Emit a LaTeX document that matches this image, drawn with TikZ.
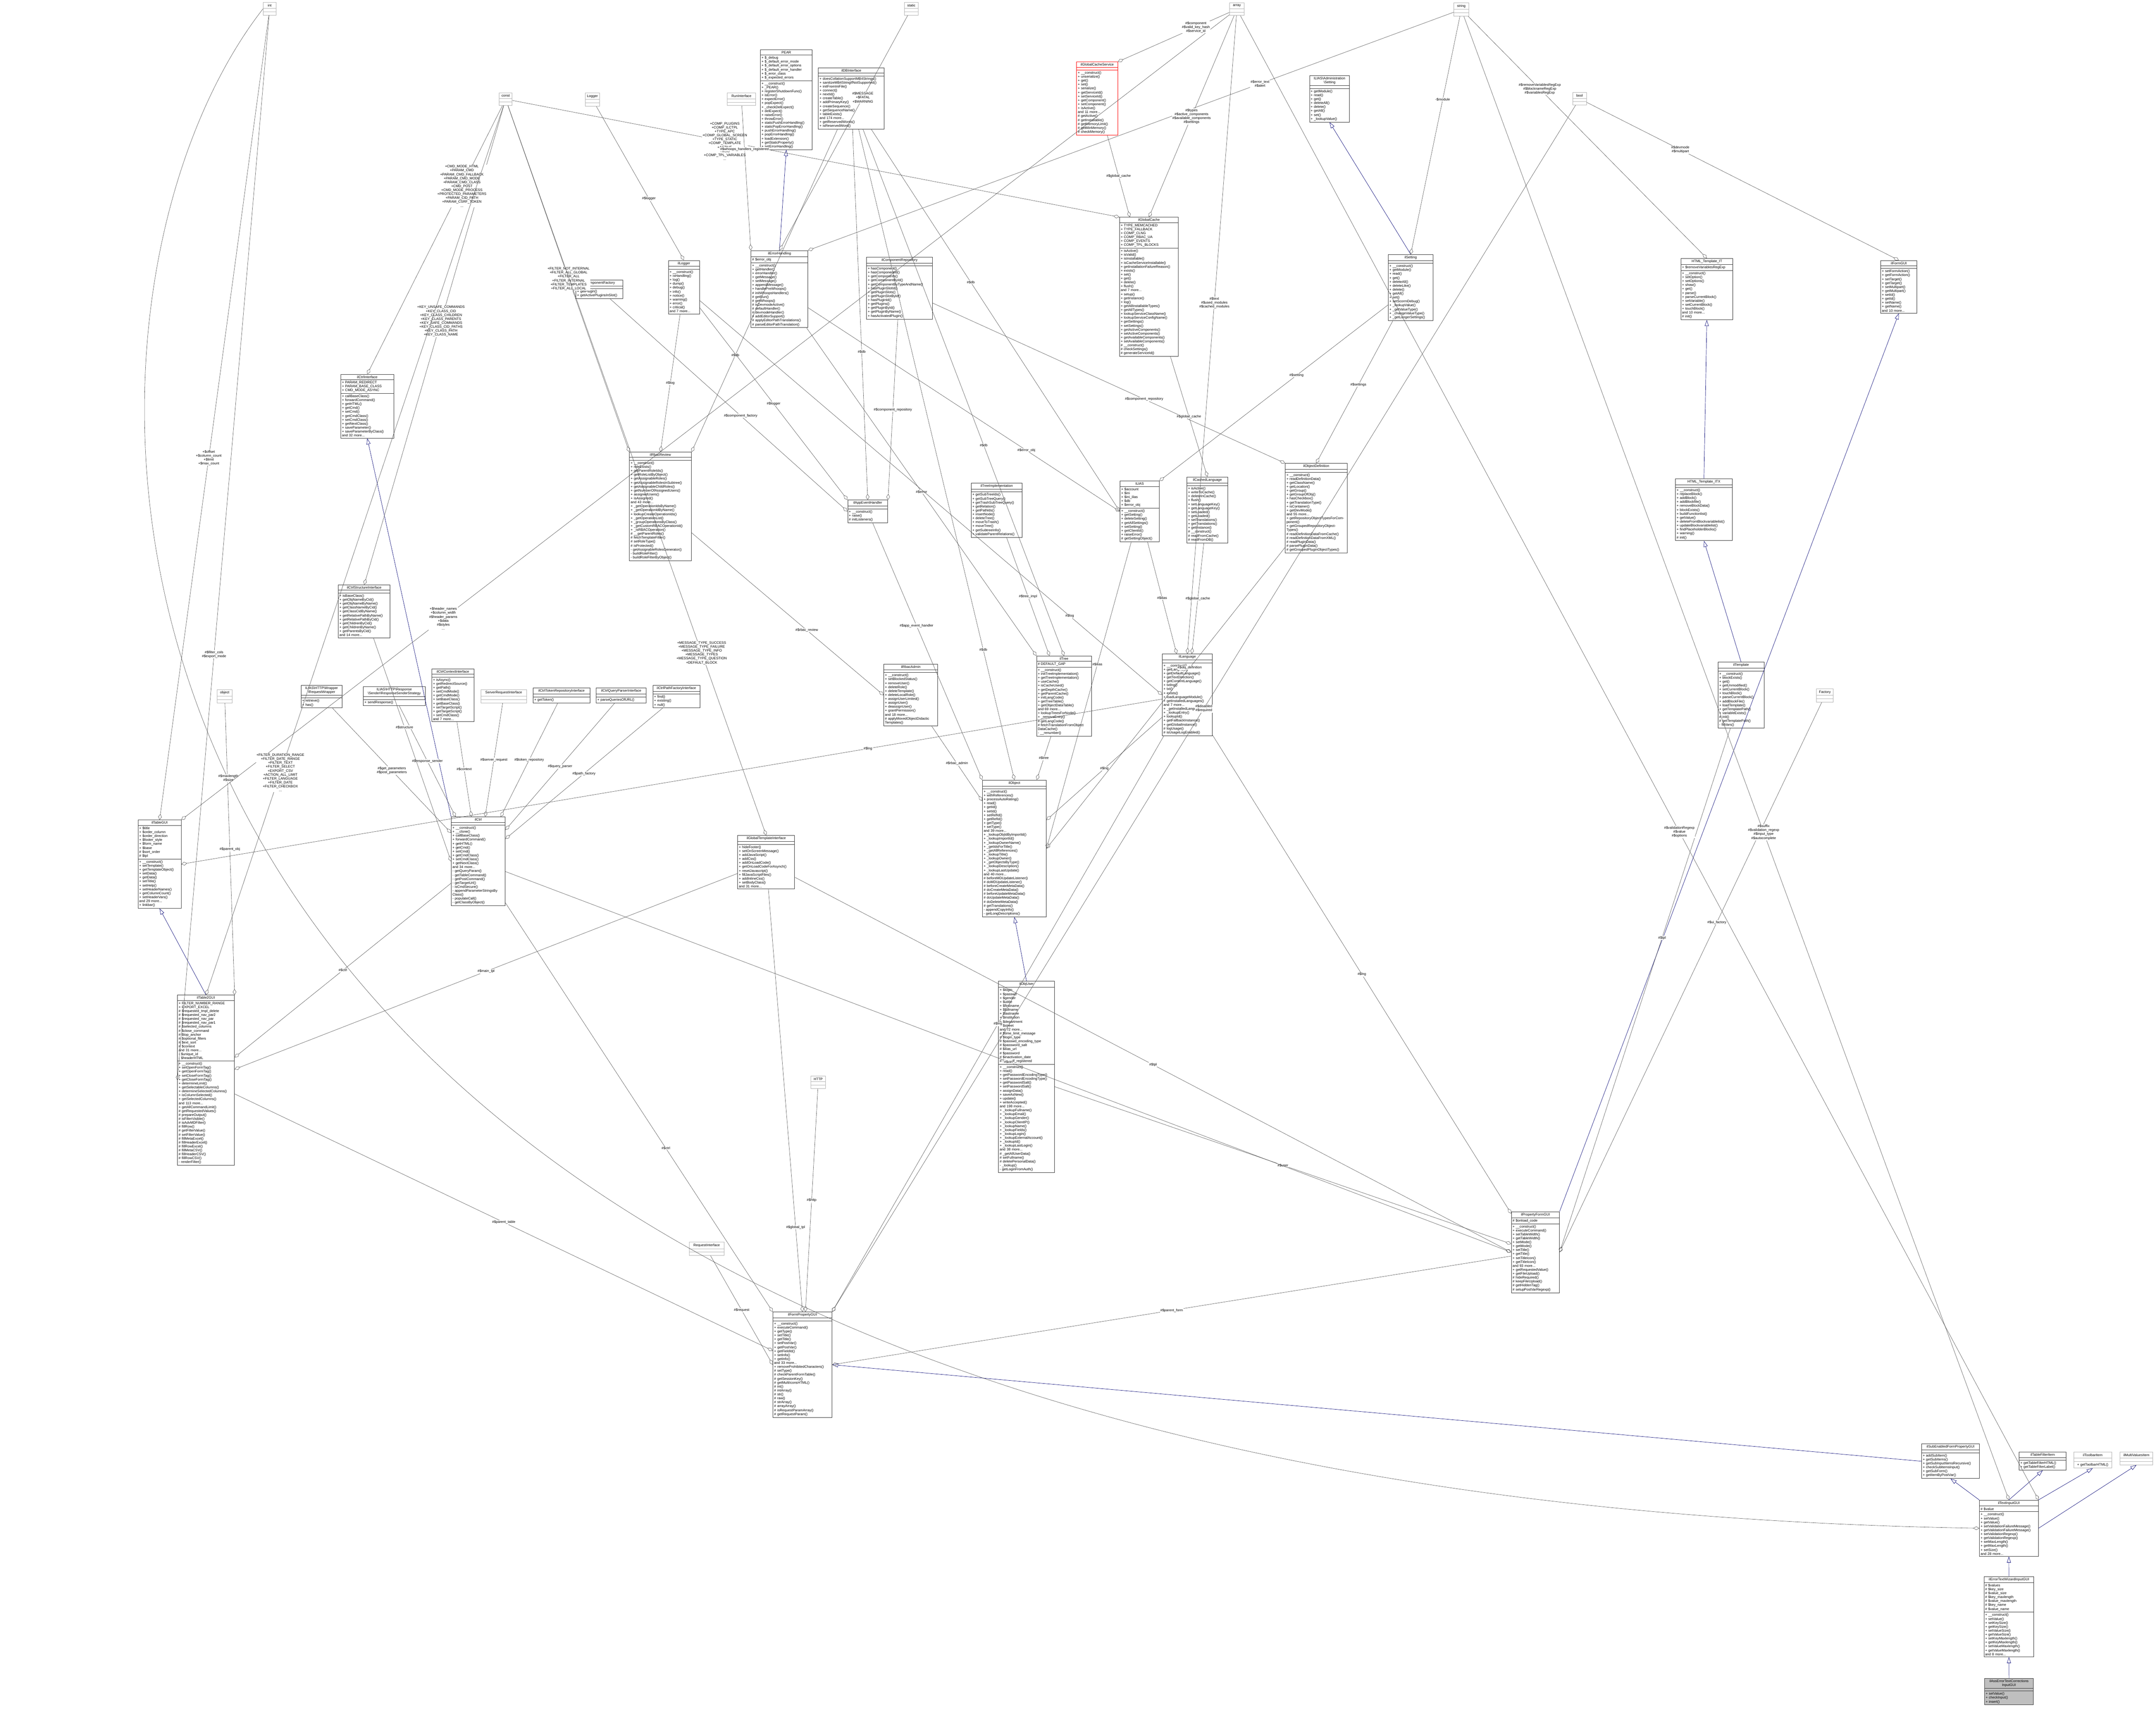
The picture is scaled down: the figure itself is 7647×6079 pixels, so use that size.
\documentclass[tikz,border=0pt]{standalone}
\usepackage{fontspec}
\setmainfont{Liberation Sans}
\usetikzlibrary{arrows.meta, shapes.multipart}

\newcommand{\umltext}{\fontsize{3.5}{3.97}\selectfont}
% one class box: name, x, y, width, title, attributes, methods
\newcommand{\umlclass}[7]{%
  \node[umlbox, text width=#4pt] (#1) at (#2,#3)
    {{\centering #5\par}\nodepart{two}#6\nodepart{three}#7};}

\begin{document}
\begin{tikzpicture}[
  x=0.01cm, y=-0.01cm,
  umlbox/.style = {rectangle split, rectangle split parts=3, draw=black!80,
    anchor=north west, font=\umltext, align=left, inner xsep=1.2pt,
    inner ysep=1.2pt, fill=white},
  typebox/.style = {rectangle split, rectangle split parts=3, draw=black!30,
    anchor=north west, font=\umltext, align=center, inner sep=1.5pt,
    text width=#1, fill=white},
  uses/.style = {draw=black!75, line width=0.25pt,
    -{Diamond[open, length=6pt, width=3.5pt]}},
  isa/.style = {draw=blue!45!black, line width=0.3pt,
    -{Triangle[open, length=6pt, width=4pt]}},
  lbl/.style = {font=\umltext, align=center, fill=white, inner sep=0.5pt}
]
\useasboundingbox (0,0) rectangle (7647,6079);

% primitive types
\node[typebox=10pt] (int) at (933,8) {int\nodepart{two}~\nodepart{three}~};
\node[typebox=11pt] (static) at (3207,8) {static\nodepart{two}~\nodepart{three}~};
\node[typebox=12pt] (array) at (4360,9) {array\nodepart{two}~\nodepart{three}~};
\node[typebox=12pt] (string) at (5156,9) {string\nodepart{two}~\nodepart{three}~};
\node[typebox=11pt] (bool) at (5577,327) {bool\nodepart{two}~\nodepart{three}~};
\node[typebox=10pt] (const) at (1770,329) {const\nodepart{two}~\nodepart{three}~};
\node[typebox=11pt] (Logger) at (2076,329) {Logger\nodepart{two}~\nodepart{three}~};
\node[typebox=26pt] (RunInterface) at (2578,329) {RunInterface\nodepart{two}~\nodepart{three}~};
\node[typebox=12pt] (object) at (770,2445) {object\nodepart{two}~\nodepart{three}~};
\node[typebox=43pt] (ServerRequest) at (1705,2445) {ServerRequestInterface\nodepart{two}~\nodepart{three}~};
\node[typebox=12pt] (HTTP) at (2875,3816) {HTTP\nodepart{two}~\nodepart{three}~};
\node[typebox=32pt] (RequestIface) at (2444,4405) {RequestInterface\nodepart{two}~\nodepart{three}~};
\node[typebox=14pt] (Factory) at (6442,2443) {Factory\nodepart{two}~\nodepart{three}~};
\node[typebox=35pt] (ilToolbarItem) at (7355,5150) {ilToolbarItem\nodepart{two}~\nodepart{three}+ getToolbarHTML()};
\node[typebox=30pt] (ilMultiValuesItem) at (7519,5150) {ilMultiValuesItem\nodepart{two}~\nodepart{three}~};

% classes
\umlclass{PEAR}{2696}{176}{50}{PEAR}{+ \$\_debug\\+ \$\_default\_error\_mode\\+ \$\_default\_error\_options\\+ \$\_default\_error\_handler\\+ \$\_error\_class\\+ \$\_expected\_errors}{+ \_\_construct()\\+ \_PEAR()\\+ registerShutdownFunc()\\+ isError()\\+ expectError()\\+ popExpect()\\+ \_checkDelExpect()\\+ delExpect()\\+ raiseError()\\+ throwError()\\+ staticPushErrorHandling()\\+ staticPopErrorHandling()\\+ pushErrorHandling()\\+ popErrorHandling()\\+ loadExtension()\\+ getStaticProperty()\\+ setErrorHandling()}
\umlclass{ilDBInterface}{2902}{240}{64}{ilDBInterface}{~}{+ doesCollationSupportMB4Strings()\\+ sanitizeMB4StringIfNotSupported()\\+ initFromIniFile()\\+ connect()\\+ nextId()\\+ createTable()\\+ addPrimaryKey()\\+ createSequence()\\+ getSequenceName()\\+ tableExists()\\and 174 more...\\+ getReservedWords()\\+ isReservedWord()}
\node[umlbox, text width=39pt, draw=red] (ilGlobalCacheService) at (3818,219)
  {{\centering ilGlobalCacheService\par}\nodepart{two}~\nodepart{three}+ \_\_construct()\\+ unserialize()\\+ get()\\+ set()\\+ serialize()\\+ getServiceId()\\+ setServiceId()\\+ getComponent()\\+ setComponent()\\+ isActive()\\and 11 more...\\\# getActive()\\\# getInstallable()\\\# getMemoryLimit()\\\# getMinMemory()\\\# checkMemory()};
\umlclass{ilAdminSetting}{4644}{268}{38}{ILIAS\textbackslash Administration \textbackslash Setting}{~}{+ getModule()\\+ read()\\+ get()\\+ deleteAll()\\+ delete()\\+ getAll()\\+ set()\\+ \_lookupValue()}
\umlclass{ilGlobalCache}{3970}{770}{57}{ilGlobalCache}{+ TYPE\_MEMCACHED\\+ TYPE\_FALLBACK\\+ COMP\_CLNG\\+ COMP\_RBAC\_UA\\+ COMP\_EVENTS\\+ COMP\_TPL\_BLOCKS}{+ isActive()\\+ isValid()\\+ isInstallable()\\+ isCacheServiceInstallable()\\+ getInstallationFailureReason()\\+ exists()\\+ set()\\+ get()\\+ delete()\\+ flush()\\and 7 more...\\+ setup()\\+ getInstance()\\+ log()\\+ getAllInstallableTypes()\\+ getAllTypes()\\+ lookupServiceClassName()\\+ lookupServiceConfigName()\\+ getSettings()\\+ setSettings()\\+ getActiveComponents()\\+ setActiveComponents()\\+ getAvailableComponents()\\+ setAvailableComponents()\\\# \_\_construct()\\\# checkSettings()\\\# generateServiceId()}
\umlclass{ilSetting}{4923}{902}{43}{ilSetting}{~}{+ \_\_construct()\\+ getModule()\\+ read()\\+ get()\\+ deleteAll()\\+ deleteLike()\\+ delete()\\+ getAll()\\+ set()\\+ setScormDebug()\\+ \_lookupValue()\\+ \_getValueType()\\+ \_changeValueType()\\+ \_getLongerSettings()}
\umlclass{HTMLTemplateIT}{5961}{916}{50}{HTML\_Template\_IT}{+ \$removeVariablesRegExp}{+ \_\_construct()\\+ setOption()\\+ setOptions()\\+ show()\\+ get()\\+ parse()\\+ parseCurrentBlock()\\+ setVariable()\\+ setCurrentBlock()\\+ touchBlock()\\and 10 more...\\\# init()}
\umlclass{ilFormGUI}{6670}{923}{34}{ilFormGUI}{~}{+ setFormAction()\\+ getFormAction()\\+ setTarget()\\+ getTarget()\\+ setMultipart()\\+ getMultipart()\\+ setId()\\+ getId()\\+ setName()\\+ getName()\\and 10 more...}
\umlclass{ilErrorHandling}{2663}{888}{55}{ilErrorHandling}{\# \$error\_obj}{+ \_\_construct()\\+ getHandler()\\+ errorHandler()\\+ getMessage()\\+ setMessage()\\+ appendMessage()\\+ handlePreWhoops()\\\# initWhoopsHandlers()\\\# getRun()\\\# getWhoops()\\\# isDevmodeActive()\\\# defaultHandler()\\\# devmodeHandler()\\\# addEditorSupport()\\\# applyEditorPathTranslations()\\\# parseEditorPathTranslation()}
\umlclass{ilLogger}{2370}{923}{29}{ilLogger}{~}{+ \_\_construct()\\+ isHandling()\\+ log()\\+ dump()\\+ debug()\\+ info()\\+ notice()\\+ warning()\\+ error()\\+ critical()\\and 7 more...}
\umlclass{ilComponentRepository}{3073}{911}{64}{ilComponentRepository}{~}{+ hasComponent()\\+ hasComponentId()\\+ getComponents()\\+ getComponentById()\\+ getComponentByTypeAndName()\\+ hasPluginSlotId()\\+ getPluginSlots()\\+ getPluginSlotById()\\+ hasPluginId()\\+ getPlugins()\\+ getPluginById()\\+ getPluginByName()\\+ hasActivatedPlugin()}
\umlclass{ilComponentFactory}{2042}{992}{45}{ilComponentFactory}{~}{+ getPlugin()\\+ getActivePluginsInSlot()}
\umlclass{ilCtrlInterface}{1208}{1327}{51}{ilCtrlInterface}{+ PARAM\_REDIRECT\\+ PARAM\_BASE\_CLASS\\+ CMD\_MODE\_ASYNC}{+ callBaseClass()\\+ forwardCommand()\\+ getHTML()\\+ getCmd()\\+ setCmd()\\+ getCmdClass()\\+ setCmdClass()\\+ getNextClass()\\+ saveParameter()\\+ saveParameterByClass()\\and 32 more...}
\umlclass{ilRbacReview}{2232}{1603}{60}{ilRbacReview}{~}{+ \_\_construct()\\+ roleExists()\\+ getParentRoleIds()\\+ getRoleListByObject()\\+ getAssignableRoles()\\+ getAssignableRolesInSubtree()\\+ getAssignableChildRoles()\\+ getNumberOfAssignedUsers()\\+ assignedUsers()\\+ isAssigned()\\and 43 more...\\+ \_getOperationIdsByName()\\+ \_getOperationIdByName()\\+ lookupCreateOperationIds()\\+ \_getOperationList()\\+ \_groupOperationsByClass()\\+ \_getCustomRBACOperationId()\\+ \_isRBACOperation()\\\# \_\_getParentRoles()\\\# fetchTemplateFilter()\\\# setRoleType()\\\# isProtected()\\- getAssignableRolesGenerator()\\- buildRoleFilter()\\- buildRoleFilterByObject()}
\umlclass{ilAppEventHandler}{3006}{1773}{38}{ilAppEventHandler}{~}{+ \_\_construct()\\+ raise()\\\# initListeners()}
\umlclass{ilTreeImplementation}{3444}{1713}{49}{ilTreeImplementation}{~}{+ getSubTreeIds()\\+ getSubTreeQuery()\\+ getTrashSubTreeQuery()\\+ getRelation()\\+ getPathIds()\\+ insertNode()\\+ deleteTree()\\+ moveToTrash()\\+ moveTree()\\+ getSubtreeInfo()\\+ validateParentRelations()}
\umlclass{ILIAS}{3972}{1706}{37}{ILIAS}{+ \$account\\+ \$ini\\+ \$ini\_ilias\\+ \$db\\+ \$error\_obj}{+ \_\_construct()\\+ getSetting()\\+ deleteSetting()\\+ getAllSettings()\\+ setSetting()\\+ getClientId()\\+ raiseError()\\\# getSettingObject()}
\umlclass{ilCachedLanguage}{4209}{1691}{39}{ilCachedLanguage}{~}{+ isActive()\\+ writeToCache()\\+ deleteInCache()\\+ flush()\\+ setLanguageKey()\\+ getLanguageKey()\\+ setLoaded()\\+ getLoaded()\\+ setTranslations()\\+ getTranslations()\\+ getInstance()\\\# \_\_construct()\\\# readFromCache()\\\# readFromDB()}
\umlclass{ilObjectDefinition}{4558}{1643}{60}{ilObjectDefinition}{~}{+ \_\_construct()\\+ readDefinitionData()\\+ getClassName()\\+ getLocation()\\+ getGroup()\\+ getGroupOfObj()\\+ hasCheckbox()\\+ getTranslationType()\\+ isContainer()\\+ getDevMode()\\and 55 more...\\+ getRepositoryObjectTypesForComponent()\\+ getGroupedRepositoryObjectTypes()\\\# readDefinitionDataFromCache()\\\# readDefinitionDataFromXML()\\\# readPluginData()\\\# parsePluginData()\\\# getGroupedPluginObjectTypes()}
\umlclass{HTMLTemplateITX}{5942}{1697}{55}{HTML\_Template\_ITX}{~}{+ \_\_construct()\\+ replaceBlock()\\+ addBlock()\\+ addBlockfile()\\+ removeBlockData()\\+ blockExists()\\+ buildFunctionlist()\\+ getValue()\\+ deleteFromBlockvariablelist()\\+ updateBlockvariablelist()\\+ findPlaceholderBlocks()\\+ warning()\\\# init()}
\umlclass{ilTree}{3676}{2326}{53}{ilTree}{\# DEFAULT\_GAP}{+ \_\_construct()\\+ initTreeImplementation()\\+ getTreeImplementation()\\+ useCache()\\+ isCacheUsed()\\+ getDepthCache()\\+ getParentCache()\\+ initLangCode()\\+ getTreeTable()\\+ getObjectDataTable()\\and 69 more...\\+ lookupTreesForNode()\\+ \_removeEntry()\\\# getLangCode()\\\# fetchTranslationFromObject DataCache()\\- \_\_renumber()}
\umlclass{ilLanguage}{4122}{2319}{48}{ilLanguage}{~}{+ \_\_construct()\\+ getLangKey()\\+ getDefaultLanguage()\\+ getTextDirection()\\+ getContentLanguage()\\+ txtlng()\\+ txt()\\+ exists()\\+ loadLanguageModule()\\+ getInstalledLanguages()\\and 7 more...\\+ \_getInstalledLanguages()\\+ \_lookupEntry()\\+ lookupId()\\+ getFallbackInstance()\\+ getGlobalInstance()\\\# logUsage()\\\# isUsageLogEnabled()}
\umlclass{ilRbacAdmin}{3134}{2356}{52}{ilRbacAdmin}{~}{+ \_\_construct()\\+ setBlockedStatus()\\+ removeUser()\\+ deleteRole()\\+ deleteTemplate()\\+ deleteLocalRole()\\+ assignUserLimited()\\+ assignUser()\\+ deassignUser()\\+ grantPermission()\\and 18 more...\\\# applyMovedObjectDidactic Templates()}
\umlclass{ilTemplate}{6093}{2348}{44}{ilTemplate}{~}{+ \_\_construct()\\+ blockExists()\\+ get()\\+ getUnmodified()\\+ setCurrentBlock()\\+ touchBlock()\\+ parseCurrentBlock()\\+ addBlockFile()\\+ loadTemplate()\\+ getTemplatePath()\\+ variableExists()\\\# init()\\\# getTemplatePath()\\- fillVars()}
\umlclass{ilObject}{3484}{2766}{62}{ilObject}{~}{+ \_\_construct()\\+ withReferences()\\+ processAutoRating()\\+ read()\\+ getId()\\+ setId()\\+ setRefId()\\+ getRefId()\\+ getType()\\+ setType()\\and 39 more...\\+ \_lookupObjIdByImportId()\\+ \_lookupImportId()\\+ \_lookupOwnerName()\\+ \_getIdsForTitle()\\+ \_getAllReferences()\\+ \_lookupTitle()\\+ \_lookupOwner()\\+ \_getObjectsByType()\\+ \_lookupDescription()\\+ \_lookupLastUpdate()\\and 40 more...\\\# beforeMDUpdateListener()\\\# doMDUpdateListener()\\\# beforeCreateMetaData()\\\# doCreateMetaData()\\\# beforeUpdateMetaData()\\\# doUpdateMetaData()\\\# doDeleteMetaData()\\\# getTranslations()\\- appendCopyInfo()\\- getLongDescriptions()}
\umlclass{ilCtrlContext}{1531}{2372}{40}{ilCtrlContextInterface}{~}{+ isAsync()\\+ getRedirectSource()\\+ getPath()\\+ setCmdMode()\\+ getCmdMode()\\+ setBaseClass()\\+ getBaseClass()\\+ setTargetScript()\\+ getTargetScript()\\+ setCmdClass()\\and 7 more...}
\umlclass{RequestWrapper}{1067}{2430}{39}{ILIAS\textbackslash HTTP\textbackslash Wrapper \textbackslash RequestWrapper}{~}{+ retrieve()\\+ has()}
\umlclass{ResponseSender}{1288}{2435}{60}{ILIAS\textbackslash HTTP\textbackslash Response \textbackslash Sender\textbackslash ResponseSenderStrategy}{~}{+ sendResponse()}
\umlclass{ilCtrlTokenRepo}{1890}{2440}{55}{ilCtrlTokenRepositoryInterface}{~}{+ getToken()}
\umlclass{ilCtrlQueryParser}{2114}{2440}{48}{ilCtrlQueryParserInterface}{~}{+ parseQueriesOfURL()}
\umlclass{ilCtrlPathFactory}{2315}{2430}{45}{ilCtrlPathFactoryInterface}{~}{+ find()\\+ existing()\\+ null()}
\umlclass{ilCtrlStructure}{1199}{2074}{50}{ilCtrlStructureInterface}{~}{+ isBaseClass()\\+ getObjNameByCid()\\+ getObjNameByName()\\+ getClassNameByCid()\\+ getClassCidByName()\\+ getRelativePathByName()\\+ getRelativePathByCid()\\+ getChildrenByCid()\\+ getChildrenByName()\\+ getParentsByCid()\\and 14 more...}
\umlclass{ilTableGUI}{489}{2908}{41}{ilTableGUI}{+ \$title\\+ \$order\_column\\+ \$order\_direction\\+ \$footer\_style\\+ \$form\_name\\+ \$base\\\# \$sort\_order\\\# \$tpl}{+ \_\_construct()\\+ setTemplate()\\+ getTemplateObject()\\+ setData()\\+ getData()\\+ setTitle()\\+ setHelp()\\+ setHeaderNames()\\+ getColumnCount()\\+ setHeaderVars()\\and 29 more...\\+ linkbar()}
\umlclass{ilTable2GUI}{629}{3529}{55}{ilTable2GUI}{+ FILTER\_NUMBER\_RANGE\\+ EXPORT\_EXCEL\\\# \$requested\_tmpl\_delete\\\# \$requested\_nav\_par2\\\# \$requested\_nav\_par\\\# \$requested\_nav\_par1\\\# \$selected\_columns\\\# \$close\_command\\\# \$top\_anchor\\\# \$optional\_filters\\\# \$ext\_sort\\\# \$context\\and 31 more...\\- \$unique\_id\\- \$headerHTML}{+ \_\_construct()\\+ setOpenFormTag()\\+ getOpenFormTag()\\+ setCloseFormTag()\\+ getCloseFormTag()\\+ determineLimit()\\+ getSelectableColumns()\\+ determineSelectedColumns()\\+ isColumnSelected()\\+ getSelectedColumns()\\and 113 more...\\+ getAllCommandLimit()\\\# getRequestedValues()\\\# prepareOutput()\\\# isFilterVisible()\\\# isAdvMDFilter()\\\# fillRow()\\\# getFilterValue()\\\# setFilterValue()\\\# fillMetaExcel()\\\# fillHeaderExcel()\\\# fillRowExcel()\\\# fillMetaCSV()\\\# fillHeaderCSV()\\\# fillRowCSV()\\- renderFilter()}
\umlclass{ilCtrl}{1600}{2897}{52}{ilCtrl}{~}{+ \_\_construct()\\+ \_\_clone()\\+ callBaseClass()\\+ forwardCommand()\\+ getHTML()\\+ getCmd()\\+ setCmd()\\+ getCmdClass()\\+ setCmdClass()\\+ getNextClass()\\and 34 more...\\- getQueryParam()\\- getTableCommand()\\- getPostCommand()\\- getTargetUrl()\\- isCmdSecure()\\- appendParameterStringsBy Class()\\- populateCall()\\- getClassByObject()}
\umlclass{ilGlobalTpl}{2616}{2963}{55}{ilGlobalTemplateInterface}{~}{+ hideFooter()\\+ setOnScreenMessage()\\+ addJavaScript()\\+ addCss()\\+ addOnLoadCode()\\+ getOnLoadCodeForAsynch()\\+ resetJavascript()\\+ fillJavaScriptFiles()\\+ addInlineCss()\\+ setBodyClass()\\and 31 more...}
\umlclass{ilObjUser}{3541}{3480}{54}{ilObjUser}{+ \$login\\+ \$passwd\\+ \$gender\\+ \$utitle\\+ \$firstname\\+ \$fullname\\+ \$lastname\\+ \$institution\\+ \$department\\+ \$street\\and 72 more...\\\# \$time\_limit\_message\\\# \$login\_type\\\# \$passwd\_encoding\_type\\\# \$password\_salt\\\# \$ilias\_url\\\# \$password\\\# \$inactivation\_date\\\# \$is\_self\_registered}{+ \_\_construct()\\+ read()\\+ getPasswordEncodingType()\\+ setPasswordEncodingType()\\+ getPasswordSalt()\\+ setPasswordSalt()\\+ assignData()\\+ saveAsNew()\\+ update()\\+ writeAccepted()\\and 198 more...\\+ \_lookupFullname()\\+ \_lookupEmail()\\+ \_lookupGender()\\+ \_lookupClientIP()\\+ \_lookupName()\\+ \_lookupFields()\\+ \_lookupLogin()\\+ \_lookupExternalAccount()\\+ \_lookupId()\\+ \_lookupLastLogin()\\and 38 more...\\\# \_getAllUserData()\\\# setFullname()\\\# deletePersonalData()\\- \_lookup()\\- getLoginFromAuth()}
\umlclass{ilPropertyFormGUI}{5360}{4297}{46}{ilPropertyFormGUI}{\# \$onload\_code}{+ \_\_construct()\\+ executeCommand()\\+ setTableWidth()\\+ getTableWidth()\\+ setMode()\\+ getMode()\\+ setTitle()\\+ getTitle()\\+ setTitleIcon()\\+ getTitleIcon()\\and 93 more...\\+ getRequestedValue()\\+ getFileUpload()\\\# hideRequired()\\\# keepFileUpload()\\\# getHiddenTag()\\\# setupPostVarRegexp()}
\umlclass{ilFormPropertyGUI}{2741}{4653}{57}{ilFormPropertyGUI}{~}{+ \_\_construct()\\+ executeCommand()\\+ getType()\\+ setTitle()\\+ getTitle()\\+ setPostVar()\\+ getPostVar()\\+ getFieldId()\\+ setInfo()\\+ getInfo()\\and 33 more...\\+ removeProhibitedCharacters()\\\# setType()\\\# checkParentFormTable()\\\# getSessionKey()\\\# getMultiIconsHTML()\\\# int()\\\# intArray()\\\# str()\\\# raw()\\\# strArray()\\\# arrayArray()\\\# isRequestParamArray()\\\# getRequestParam()}
\umlclass{ilSubEnabled}{6815}{5121}{56}{ilSubEnabledFormPropertyGUI}{~}{+ addSubItem()\\+ getSubItems()\\+ getSubInputItemsRecursive()\\+ checkSubItemsInput()\\+ getSubForm()\\+ getItemByPostVar()}
\umlclass{ilTableFilterItem}{7161}{5150}{45}{ilTableFilterItem}{~}{+ getTableFilterHTML()\\+ getTableFilterLabel()}
\umlclass{ilTextInputGUI}{7020}{5320}{57}{ilTextInputGUI}{\# \$value}{+ \_\_construct()\\+ setValue()\\+ getValue()\\+ setValidationFailureMessage()\\+ getValidationFailureMessage()\\+ setValidationRegexp()\\+ getValidationRegexp()\\+ setMaxLength()\\+ getMaxLength()\\+ setSize()\\and 28 more...}
\umlclass{ilErrorTextWizard}{7036}{5591}{48}{ilErrorTextWizardInputGUI}{\# \$values\\\# \$key\_size\\\# \$value\_size\\\# \$key\_maxlength\\\# \$value\_maxlength\\\# \$key\_name\\\# \$value\_name}{+ \_\_construct()\\+ setValue()\\+ setKeySize()\\+ getKeySize()\\+ setValueSize()\\+ getValueSize()\\+ setKeyMaxlength()\\+ getKeyMaxlength()\\+ setValueMaxlength()\\+ getValueMaxlength()\\and 8 more...}
\node[umlbox, text width=47pt, fill=black!25] (ilAssErrorText) at (7038,5952)
  {{\centering ilAssErrorTextCorrections InputGUI\par}\nodepart{two}~\nodepart{three}+ setValue()\\+ checkInput()\\+ insert()};

% inheritance
\draw[isa] (ilTable2GUI.north) -- (ilTableGUI.south);
\draw[isa] (ilCtrl.north west) -- (ilCtrlInterface.south);
\draw[isa] (ilErrorHandling.north) -- (PEAR.south);
\draw[isa] (ilSetting.north) -- (ilAdminSetting.south);
\draw[isa] (HTMLTemplateITX.north) -- (HTMLTemplateIT.south);
\draw[isa] (ilTemplate.north) -- (HTMLTemplateITX.south);
\draw[isa] (ilPropertyFormGUI.north east) -- (ilFormGUI.south);
\draw[isa] (ilObjUser.north) -- (ilObject.south);
\draw[isa] (ilSubEnabled.west) -- (ilFormPropertyGUI.east);
\draw[isa] (ilTextInputGUI.north west) -- (ilSubEnabled.south);
\draw[isa] (ilTextInputGUI.north) -- (ilTableFilterItem.south);
\draw[isa] (ilTextInputGUI.north east) -- (ilToolbarItem.south);
\draw[isa] (ilTextInputGUI.east) -- (ilMultiValuesItem.south);
\draw[isa] (ilErrorTextWizard.north) -- (ilTextInputGUI.south);
\draw[isa] (ilAssErrorText.north) -- (ilErrorTextWizard.south);

% collaboration
\draw[uses] (ilCtrl) -- node[lbl]{\#\$ctrl} (ilTable2GUI);
\draw[uses] (ilGlobalTpl) -- node[lbl]{\#\$main\_tpl} (ilTable2GUI);
\draw[uses] (object) -- node[lbl]{\#\$parent\_obj} (ilTable2GUI.north east);
\draw[uses] (int) -- node[lbl, pos=0.55]{+\$offset\\+\$column\_count\\+\$limit\\+\$max\_count} (ilTableGUI.north);
\draw[uses] (int) -- node[lbl, pos=0.6]{\#\$filter\_cols\\\#\$export\_mode} (ilTable2GUI.west);
\draw[uses] (int.west) .. controls (20,1200) and (20,5300) .. node[lbl, pos=0.45]{\#\$maxlength\\\#\$size} (ilTextInputGUI.west);
\draw[uses] (array) -- node[lbl, pos=0.75]{+\$header\_names\\+\$column\_width\\\#\$header\_params\\+\$data\\\#\$styles\\...} (ilTableGUI.north east);
\draw[uses] (ilLanguage) -- node[lbl, pos=0.3]{\#\$lng} (ilTableGUI.east);
\draw[uses] (RequestWrapper) -- node[lbl]{\#\$get\_parameters\\\#\$post\_parameters} (ilCtrl);
\draw[uses] (ResponseSender) -- node[lbl]{\#\$response\_sender} (ilCtrl);
\draw[uses] (ilCtrlContext) -- node[lbl]{\#\$context} (ilCtrl);
\draw[uses] (ServerRequest) -- node[lbl]{\#\$server\_request} (ilCtrl);
\draw[uses] (ilCtrlTokenRepo) -- node[lbl]{\#\$token\_repository} (ilCtrl);
\draw[uses] (ilCtrlQueryParser) -- node[lbl]{\#\$query\_parser} (ilCtrl);
\draw[uses] (ilCtrlPathFactory) -- node[lbl]{\#\$path\_factory} (ilCtrl);
\draw[uses] (ilCtrlStructure) -- node[lbl, pos=0.4]{\#\$structure} (ilCtrl.west);
\draw[uses] (const) -- node[lbl, pos=0.45]{+KEY\_UNSAFE\_COMMANDS\\+KEY\_CLASS\_CID\\+KEY\_CLASS\_CHILDREN\\+KEY\_CLASS\_PARENTS\\+KEY\_SAFE\_COMMANDS\\+KEY\_CLASS\_CID\_PATHS\\+KEY\_CLASS\_PATH\\+KEY\_CLASS\_NAME} (ilCtrlStructure.north);
\draw[uses] (const) -- node[lbl, pos=0.3]{+CMD\_MODE\_HTML\\+PARAM\_CMD\\+PARAM\_CMD\_FALLBACK\\+PARAM\_CMD\_MODE\\+PARAM\_CMD\_CLASS\\+CMD\_POST\\+CMD\_MODE\_PROCESS\\+PROTECTED\_PARAMETERS\\+PARAM\_CID\_PATH\\+PARAM\_CSRF\_TOKEN\\...} (ilCtrlInterface.north);
\draw[uses] (const) -- node[lbl, pos=0.5]{+FILTER\_NOT\_INTERNAL\\+FILTER\_ALL\_GLOBAL\\+FILTER\_ALL\\+FILTER\_INTERNAL\\+FILTER\_TEMPLATES\\+FILTER\_ALL\_LOCAL} (ilRbacReview.north west);
\draw[uses] (const) -- node[lbl, pos=0.35]{+COMP\_PLUGINS\\+COMP\_ILCTPL\\+TYPE\_APC\\+COMP\_GLOBAL\_SCREEN\\+TYPE\_STATIC\\+COMP\_TEMPLATE\\+ACTIVE\\+MSG\\+COMP\_TPL\_VARIABLES\\...} (ilGlobalCache.north west);
\draw[uses] (const) -- node[lbl, pos=0.75]{+MESSAGE\_TYPE\_SUCCESS\\+MESSAGE\_TYPE\_FAILURE\\+MESSAGE\_TYPE\_INFO\\+MESSAGE\_TYPES\\+MESSAGE\_TYPE\_QUESTION\\+DEFAULT\_BLOCK} (ilGlobalTpl.north);
\draw[uses] (const) -- node[lbl, pos=0.75]{+FILTER\_DURATION\_RANGE\\+FILTER\_DATE\_RANGE\\+FILTER\_TEXT\\+FILTER\_SELECT\\+EXPORT\_CSV\\+ACTION\_ALL\_LIMIT\\+FILTER\_LANGUAGE\\+FILTER\_DATE\\+FILTER\_CHECKBOX\\...} (ilTable2GUI.north);
\draw[uses] (Logger) -- node[lbl, pos=0.6]{\#\$logger} (ilLogger.north);
\draw[uses] (RunInterface) -- node[lbl, pos=0.3]{\#\$whoops\_handlers\_registered} (ilErrorHandling.north west);
\draw[uses] (static) -- node[lbl, pos=0.35]{\#\$MESSAGE\\+\$FATAL\\+\$WARNING} (ilErrorHandling.north);
\draw[uses] (ilErrorHandling) -- node[lbl, pos=0.5]{\#\$error} (ilTree.north west);
\draw[uses] (ilDBInterface) -- node[lbl, pos=0.6]{\#\$db} (ilAppEventHandler.north);
\draw[uses] (ilDBInterface) -- node[lbl, pos=0.7]{\#\$db} (ilRbacReview.north east);
\draw[uses] (ilDBInterface) -- node[lbl, pos=0.6]{\#\$db} (ilTree.north);
\draw[uses] (ilDBInterface) -- node[lbl, pos=0.4]{\#\$db} (ILIAS.west);
\draw[uses] (ilLogger) -- node[lbl, pos=0.5]{\#\$logger} (ilAppEventHandler.north west);
\draw[uses] (ilLogger) -- node[lbl, pos=0.5]{\#\$log} (ilRbacReview.north);
\draw[uses] (ilComponentRepository) -- node[lbl, pos=0.5]{\#\$component\_repository} (ilAppEventHandler.north east);
\draw[uses] (ilComponentFactory) -- node[lbl, pos=0.55]{\#\$component\_factory} (ilAppEventHandler.west);
\draw[uses] (ilComponentRepository) -- node[lbl, pos=0.6]{\#\$component\_repository} (ilObjectDefinition.north west);
\draw[uses] (ilTreeImplementation) -- node[lbl]{\#\$tree\_impl} (ilTree);
\draw[uses] (ilRbacReview) -- node[lbl, pos=0.6]{\#\$rbac\_review} (ilRbacAdmin.west);
\draw[uses] (ilGlobalCacheService) -- node[lbl]{\#\$global\_cache} (ilGlobalCache);
\draw[uses] (ilErrorHandling) -- node[lbl, pos=0.7]{\#\$error\_obj} (ILIAS.west);
\draw[uses] (ilSetting) -- node[lbl, pos=0.4]{\#\$setting} (ILIAS.north east);
\draw[uses] (ilSetting) -- node[lbl, pos=0.45]{\#\$settings} (ilObjectDefinition.north);
\draw[uses] (ilGlobalCache) -- node[lbl, pos=0.5]{\#\$global\_cache} (ilCachedLanguage.north);
\draw[uses] (ilCachedLanguage) -- node[lbl]{\#\$global\_cache} (ilLanguage);
\draw[uses] (ILIAS) -- node[lbl]{\#\$ilias} (ilLanguage);
\draw[uses] (ilLogger) -- node[lbl, pos=0.8]{\#\$log} (ilLanguage.west);
\draw[uses] (ilTree) -- node[lbl]{\#\$tree} (ilObject);
\draw[uses] (ilLanguage) -- node[lbl]{\#\$lng} (ilObject);
\draw[uses] (ilAppEventHandler) -- node[lbl, pos=0.4]{\#\$app\_event\_handler} (ilObject.north west);
\draw[uses] (ilRbacAdmin) -- node[lbl]{\#\$rbac\_admin} (ilObject);
\draw[uses] (ILIAS) -- node[lbl, pos=0.4]{\#\$ilias} (ilObject.east);
\draw[uses] (ilObjectDefinition) -- node[lbl, pos=0.4]{\#\$obj\_definition} (ilObject.east);
\draw[uses] (ilDBInterface) -- node[lbl, pos=0.8]{\#\$db} (ilObject.north);
\draw[uses] (ilObjUser) -- node[lbl]{\#\$user} (ilPropertyFormGUI);
\draw[uses] (ilCtrl) -- node[lbl, pos=0.5]{\#\$ctrl} (ilPropertyFormGUI.west);
\draw[uses] (ilLanguage) -- node[lbl]{\#\$lng} (ilPropertyFormGUI);
\draw[uses] (ilGlobalTpl) -- node[lbl, pos=0.5]{\#\$tpl} (ilPropertyFormGUI.west);
\draw[uses] (ilTemplate) -- node[lbl, pos=0.4]{\#\$tpl} (ilPropertyFormGUI.east);
\draw[uses] (Factory) -- node[lbl, pos=0.4]{\#\$ui\_factory} (ilPropertyFormGUI.east);
\draw[uses] (ilTable2GUI) -- node[lbl]{\#\$parent\_table} (ilFormPropertyGUI);
\draw[uses] (ilCtrl) -- node[lbl, pos=0.6]{\#\$ctrl} (ilFormPropertyGUI.north west);
\draw[uses] (RequestIface) -- node[lbl, pos=0.5]{\#\$request} (ilFormPropertyGUI.west);
\draw[uses] (HTTP) -- node[lbl]{\#\$http} (ilFormPropertyGUI);
\draw[uses] (ilGlobalTpl) -- node[lbl, pos=0.8]{\#\$global\_tpl} (ilFormPropertyGUI.north);
\draw[uses] (ilLanguage) -- node[lbl, pos=0.5]{\#\$lng} (ilFormPropertyGUI.north east);
\draw[uses] (ilPropertyFormGUI) -- node[lbl, pos=0.5]{\#\$parent\_form} (ilFormPropertyGUI.east);
\draw[uses] (array) -- node[lbl, pos=0.55]{\#\$validationRegexp\\\#\$value\\\#\$options} (ilTextInputGUI.north east);
\draw[uses] (string) -- node[lbl, pos=0.55]{\#\$suffix\\\#\$validation\_regexp\\\#\$input\_type\\\#\$autocomplete} (ilTextInputGUI.north);
\draw[uses] (string) -- node[lbl, pos=0.3]{\#\$error\_text\\\#\$alert} (ilErrorHandling.north east);
\draw[uses] (bool) -- node[lbl, pos=0.3]{\#\$devmode\\\#\$multipart} (ilFormGUI.north);
\draw[uses] (bool) -- node[lbl, pos=0.5]{\#\$disabled\\\#\$required} (ilFormPropertyGUI.north east);
\draw[uses] (string) -- node[lbl, pos=0.3]{\#\$removeVariablesRegExp\\\#\$blocknameRegExp\\\#\$variablesRegExp} (HTMLTemplateIT.north);
\draw[uses] (array) -- node[lbl, pos=0.3]{\#\$component\\\#\$valid\_key\_hash\\\#\$service\_id} (ilGlobalCacheService.north east);
\draw[uses] (array) -- node[lbl, pos=0.5]{\#\$types\\\#\$active\_components\\\#\$available\_components\\\#\$settings} (ilGlobalCache.north);
\draw[uses] (array) -- node[lbl, pos=0.45]{\#\$text\\\#\$used\_modules\\\#\$cached\_modules} (ilLanguage.north);
\draw[uses] (string) -- node[lbl, pos=0.35]{-\$module} (ilSetting.north);
\end{tikzpicture}
\end{document}
